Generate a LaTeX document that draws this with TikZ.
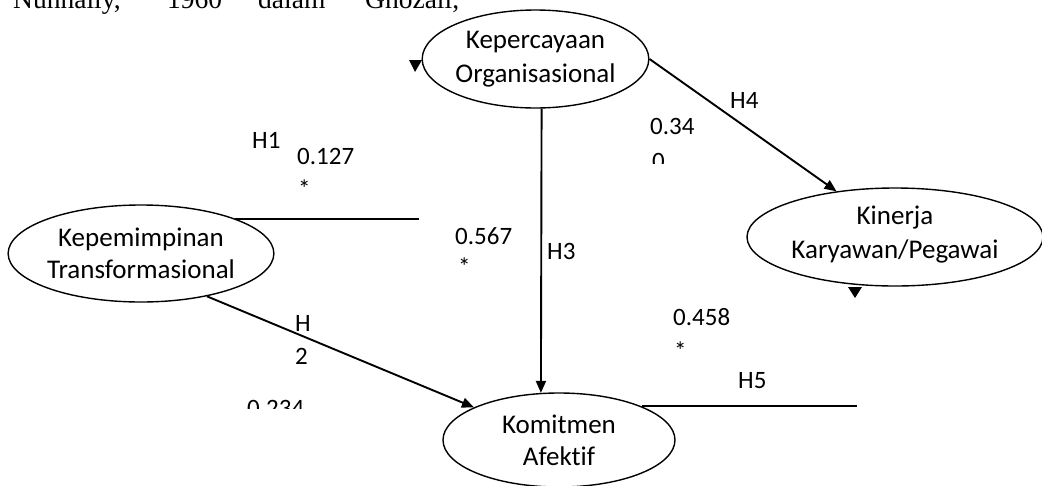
\documentclass[tikz,border=0pt]{standalone}
\usepackage{fontspec}
\setmainfont{Carlito}[Ligatures=NoCommon]
\newfontfamily\pageserif{Liberation Serif}
\usetikzlibrary{shapes.geometric,arrows.meta}

\begin{document}
\begin{tikzpicture}[x=1pt,y=-1pt,
    construct/.style={draw, ellipse, line width=1.4pt, inner sep=0pt, align=center,
        font=\fontsize{27}{34}\selectfont},
    link/.style={line width=1.9pt},
    arr/.style={link, -{Triangle[length=12pt,width=10pt]}},
    lbl/.style={anchor=north west, inner sep=0pt, font=\fontsize{25}{30}\selectfont},
    pageword/.style={anchor=base west, inner sep=0pt, font=\pageserif\fontsize{27.5}{33}\selectfont}]
    % Fix the page size
    \useasboundingbox (0,0) rectangle (1042,485);

    % Text of the page above the figure (cut off at the top)
    \node[pageword] (w1) at (13,8) {Nunnally,};
    \node[pageword] (w2) at (167,8) {1960};
    \node[pageword] (w3) at (258,8) {dalam};
    \node[pageword] (w4) at (365,8) {Ghozali,};

    % Draw the constructs
    \node[construct, minimum width=226pt, minimum height=98pt] (kpo) at (535.5,59) {Kepercayaan\\Organisasional};
    \node[construct, minimum width=262pt, minimum height=97pt, font=\fontsize{27}{32}\selectfont] (kep) at (141,253.5) {Kepemimpinan\\Transformasional};
    \node[construct, minimum width=296pt, minimum height=98pt] (kin) at (895,237) {Kinerja\\Karyawan/Pegawai\rule[-10pt]{0pt}{0pt}};
    \node[construct, minimum width=232pt, minimum height=94pt, font=\fontsize{27}{32}\selectfont] (kom) at (559,440) {Komitmen\\Afektif};

    % Free ends of the open lines
    \coordinate (h1end) at (419,217);
    \coordinate (h5end) at (857,408);

    % Draw the paths
    \draw[link] (kep.north east) -- (kep.north east -| h1end);
    \draw[arr] (kep.-33) -- (kom.159);
    \draw[arr] (kpo.-83) -- (kom.111);
    \draw[arr] (kpo.east) -- (kin.142);
    \draw[link] (kom.north east) -- (kom.north east -| h5end);

    % Loose arrow heads
    \fill (409,60) -- (422,60) -- (415,72) -- cycle;
    \fill (848,287) -- (862,287) -- (855,298) -- cycle;

    % Add labels to paths
    \node[lbl] (h1) at (252,132) {H1};
    \node[lbl] (v1) at (297,148) {0.127};
    \node[lbl] (s1) at (298,180) {*};
    \node[lbl] (h2a) at (295,315) {H};
    \node[lbl] (h2b) at (295,348) {2};
    \begin{scope}
        \clip (230,390) rectangle (320,408);
        \node[lbl] (v2) at (247,400) {0.234};
    \end{scope}
    \node[lbl] (h3) at (547,243) {H3};
    \node[lbl] (v3) at (455,227) {0.567};
    \node[lbl] (s3) at (458,258) {*};
    \node[lbl] (h4) at (730,92) {H4};
    \node[lbl] (v4) at (650,118) {0.34};
    \begin{scope}
        \clip (630,140) rectangle (700,163);
        \node[lbl] (v4b) at (652,153) {0};
    \end{scope}
    \node[lbl] (h5) at (738,372) {H5};
    \node[lbl] (v5) at (673,308) {0.458};
    \node[lbl] (s5) at (674,342) {*};
\end{tikzpicture}
\end{document}
